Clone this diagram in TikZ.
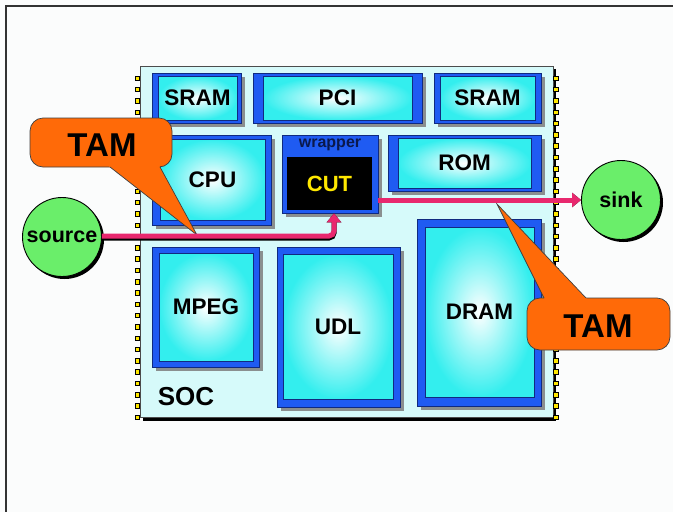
\documentclass[tikz,border=0pt]{standalone}
\usepackage{fontspec}
\setmainfont{Liberation Sans}
\usetikzlibrary{arrows.meta,calc}
\definecolor{bg}{HTML}{FBFCFC}
\definecolor{chip}{HTML}{D6FAFA}
\definecolor{blu}{HTML}{1F5BF2}
\definecolor{blued}{HTML}{102A80}
\definecolor{cy}{HTML}{33EEEE}
\definecolor{grn}{HTML}{6AEE6A}
\definecolor{org}{HTML}{FF6A08}
\definecolor{pnk}{HTML}{E8286E}
\definecolor{pinY}{HTML}{FFE800}
\definecolor{shd}{HTML}{8A8F8F}
\newcommand\socblock[6]{%
  \fill[shd] ($#2+(4,4)$) rectangle ($#3+(4,4)$);
  \filldraw[fill=blu,draw=blued,line width=0.6] #2 rectangle #3;
  \shade[inner color=white,outer color=cy] #4 rectangle #5;
  \draw[draw=blued,line width=0.5] #4 rectangle #5;
  \node[lbl] (#1) at ($0.5*#4+0.5*#5$) {#6};
}
\begin{document}
\begin{tikzpicture}[x=1pt,y=-1pt,
  lbl/.style={font=\bfseries\fontsize{22.5}{22.5}\selectfont,text=black,inner sep=0},
  pin/.style={fill=pinY,draw=black,line width=0.7},
  tambox/.style={fill=org,draw=black!75,line width=0.7,rounded corners=13,inner sep=0},
  tamtxt/.style={font=\bfseries\fontsize{33}{33}\selectfont,inner sep=0},
  tamline/.style={draw=black!75,line width=0.7},
  ball/.style={circle,fill=grn,draw=black,line width=0.9,minimum size=79,inner sep=0,
     font=\bfseries\fontsize{21.5}{21.5}\selectfont},
  wire/.style={line width=5,draw=pnk,rounded corners=5,-{Triangle[length=9pt,width=14pt]}},
  wireshd/.style={line width=5,draw=black,rounded corners=5,-{Triangle[length=9pt,width=14pt]}}]
\useasboundingbox (0,0) rectangle (673,512);
\fill[bg] (0,0) rectangle (673,512);
\draw[black!80,line width=1.2] (673,6) -- (6,6) -- (6,512);
% chip
\fill[black] (143,69) rectangle (556,421);
\filldraw[fill=chip,draw=black!70,line width=0.6] (140,66) rectangle (553,417);
\foreach \i in {0,...,30} {
  \filldraw[pin] (135,{76+\i*11.3}) rectangle ++(4.5,4.5);
  \filldraw[pin] (553.5,{76+\i*11.3}) rectangle ++(4.5,4.5);
}
\node[font=\bfseries\fontsize{26}{26}\selectfont,inner sep=0] (soc) at (186,397) {SOC};
% blocks
\socblock{sram1}{(152,73)}{(241,123)}{(158,76)}{(237,120)}{SRAM}
\socblock{pci}{(253,73)}{(422,123)}{(263,76)}{(412,120)}{PCI}
\socblock{sram2}{(434,73)}{(541,123)}{(440,76)}{(535,120)}{SRAM}
\socblock{cpu}{(152,135)}{(271,225)}{(160,139)}{(265,220)}{CPU}
\socblock{rom}{(388,135)}{(541,191)}{(398,138)}{(531,188)}{ROM}
\socblock{mpeg}{(152,247)}{(259,367)}{(159,253)}{(253,361)}{MPEG}
\socblock{udl}{(277,247)}{(400,407)}{(283,254)}{(393,399)}{UDL}
\socblock{dram}{(417,219)}{(541,406)}{(425,227)}{(534,397)}{DRAM}
% wrapper + CUT
\fill[shd] (286,139) rectangle (382,217);
\node[fill=blu,draw=blued,line width=0.6,minimum width=96,minimum height=78,inner sep=0] (wrap) at (330,174) {};
\node[font=\bfseries\fontsize{16}{16}\selectfont,text=blued!60!black,inner sep=0] (wraplbl) at (330,145) {wrapper};
\node[fill=black,minimum width=85,minimum height=53,inner sep=0,text=pinY,
  font=\bfseries\fontsize{22}{22}\selectfont] (cut) at (329.5,183.5) {CUT};
% TAM callouts
\node[tambox,minimum width=142,minimum height=49] (tam1) at (101,142.5) {};
\coordinate (t1a) at (110,167);
\coordinate (t1b) at (160,167);
\coordinate (t1tip) at (197,235);
\fill[org] ($(t1tip)!1.08!(t1a)$) -- (t1tip) -- ($(t1tip)!1.08!(t1b)$) -- cycle;
\draw[tamline] (t1a) -- (t1tip) -- (t1b);
\node[tamtxt] (tam1txt) at (102,145) {TAM};
\node[tambox,minimum width=143,minimum height=52] (tam2) at (598.5,324) {};
\coordinate (t2a) at (544,298);
\coordinate (t2b) at (586,298);
\coordinate (t2tip) at (497,204);
\fill[org] ($(t2tip)!1.06!(t2a)$) -- (t2tip) -- ($(t2tip)!1.06!(t2b)$) -- cycle;
\draw[tamline] (t2a) -- (t2tip) -- (t2b);
\node[tamtxt] (tam2txt) at (598,326) {TAM};
% source / sink
\fill[black] (64.5,239.5) circle (39.5);
\node[ball] (source) at (62,237) {source};
\fill[black] (623.5,202.5) circle (39.5);
\node[ball] (sink) at (621,200) {sink};
% wires
\coordinate (cutin) at ($(wrap.south)+(4,0)$);
\begin{scope}[shift={(1.5,2)}]
\draw[wireshd] (source.east |- 0,236) -| (cutin);
\draw[wireshd] (wrap.east |- sink.west) -- (sink.west);
\end{scope}
\draw[wire] (source.east |- 0,236) -| (cutin);
\draw[wire] (wrap.east |- sink.west) -- (sink.west);
\end{tikzpicture}
\end{document}
